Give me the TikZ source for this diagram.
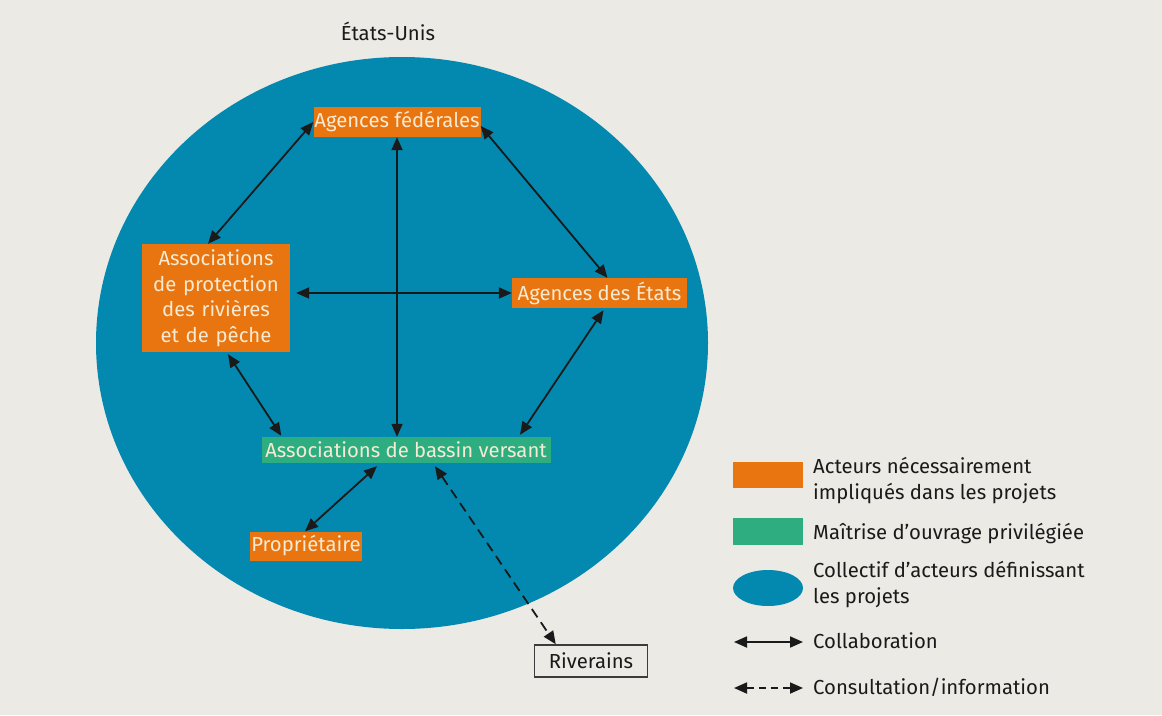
\documentclass[tikz,border=0pt]{standalone}
\usepackage{fontspec}
\setmainfont{Fira Sans}
\usetikzlibrary{arrows.meta,calc}
\definecolor{bg}{HTML}{ECEAE5}
\definecolor{blu}{HTML}{0388B0}
\definecolor{ora}{HTML}{E8750F}
\definecolor{grn}{HTML}{2EAE80}
\definecolor{crm}{HTML}{F7EAD3}
\definecolor{ink}{HTML}{1A1A1A}
\begin{document}
\begin{tikzpicture}[x=1pt,y=-1pt,
  every node/.style={font=\fontsize{20.3}{25.5}\selectfont, text=ink},
  actor/.style={fill=ora, text=crm, inner sep=0pt, align=center},
  chosen/.style={fill=grn, text=crm, inner sep=0pt, align=center},
  outside/.style={draw=ink!85, line width=1.5pt, fill=bg, inner sep=0pt},
  legtext/.style={anchor=base west, align=left, inner sep=0pt},
  collab/.style={{Triangle[length=13pt,width=11pt]}-{Triangle[length=13pt,width=11pt]}, line width=1.8pt, draw=ink},
  consult/.style={collab, dash pattern=on 10pt off 6pt}
]
\fill[bg] (0,0) rectangle (1162,715);
\useasboundingbox (0,0) rectangle (1162,715);
\fill[blu] (402,343) ellipse [x radius=306, y radius=286];
\node (eu) at (388,31) {États-Unis};

\node[actor, minimum width=167, minimum height=30] (fed) at (397,122) {Agences fédérales};
\node[actor, minimum width=148, minimum height=108, text width=140] (apr) at (216,298) {Associations\\de protection\\des rivières\\et de pêche};
\node[actor, minimum width=175, minimum height=30] (ae) at (599.5,293) {Agences des États};
\node[chosen, minimum width=289, minimum height=26] (abv) at (406,450) {Associations de bassin versant};
\node[actor, minimum width=112, minimum height=29] (pro) at (306,546) {Propriétaire};
\node[outside, minimum width=113, minimum height=32] (riv) at (591,661) {Riverains};

\draw[collab] (fed.west) -- ($(apr.north)+(-8,0)$);
\draw[collab] ($(fed.east)+(0,4)$) -- ($(ae.north)+(8,0)$);
\draw[collab] (fed.south) -- (fed.south |- abv.north);
\draw[collab] ($(apr.east |- ae.west)+(6,0)$) -- (ae.west);
\draw[collab] ($(apr.south)+(12,2)$) -- ($(abv.north west)+(20,-1)$);
\draw[collab] ($(ae.south)+(4,2)$) -- ($(abv.north)+(114,-2)$);
\draw[collab] ($(abv.south)+(-29,3)$) -- ($(pro.north)+(-1,0)$);
\draw[consult] ($(abv.south)+(29,3)$) -- ($(riv.north west)+(22,0)$);

% legend
\node[fill=ora, minimum width=70, minimum height=26, inner sep=0pt] (lora) at (768,475) {};
\node[legtext] (tora) at (813,499) {Acteurs nécessairement\\impliqués dans les projets};
\node[fill=grn, minimum width=70, minimum height=27, inner sep=0pt] (lgrn) at (768,531) {};
\node[legtext] (tgrn) at (813,539) {Maîtrise d’ouvrage privilégiée};
\fill[blu] (768,588) ellipse [x radius=35, y radius=18];
\node[legtext] (tblu) at (813,603) {Collectif d’acteurs définissant\\les projets};
\coordinate (c1) at (734,642);
\coordinate (c2) at (803,642);
\draw[collab] (c1) -- (c2);
\node[legtext] (tcol) at (813,648) {Collaboration};
\coordinate (d1) at (734,688);
\coordinate (d2) at (803,688);
\draw[collab, dash pattern=on 7pt off 5pt] (d1) -- (d2);
\node[legtext] (tcon) at (813,694) {Consultation/information};
\end{tikzpicture}
\end{document}
